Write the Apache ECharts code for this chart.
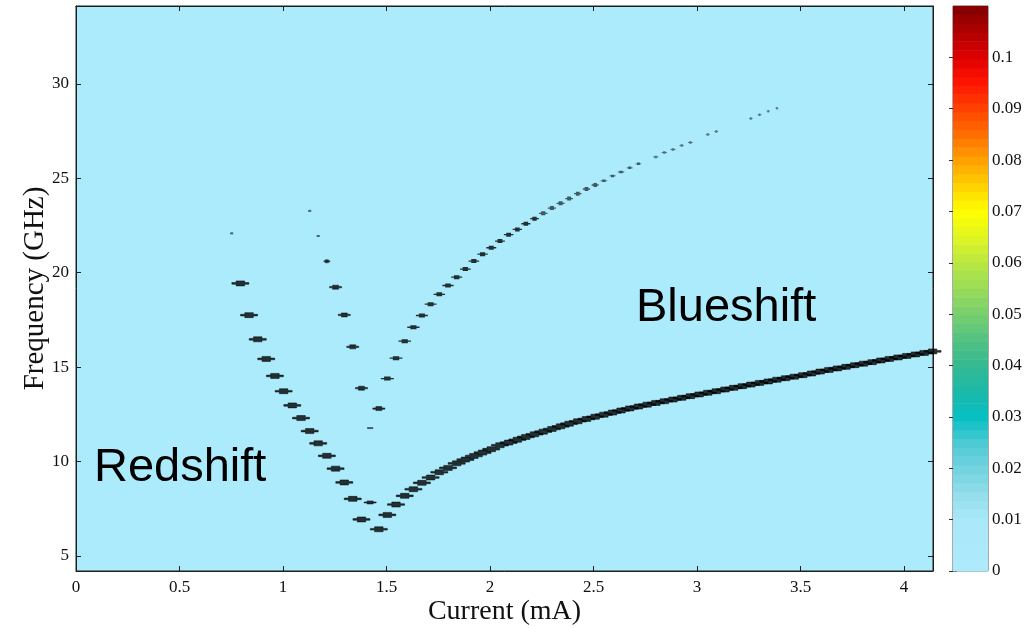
<!DOCTYPE html>
<html>
<head>
<meta charset="utf-8">
<script src="https://cdn.jsdelivr.net/npm/echarts@6/dist/echarts.min.js"></script>
<style>
  html, body { margin: 0; padding: 0; background: #ffffff; }
  #chart { width: 1027px; height: 628px; }
</style>
</head>
<body>
<div id="chart"></div>
<script>
// ---- axis ticks ----
const currentTicks = [0, 0.5, 1, 1.5, 2, 2.5, 3, 3.5, 4];
const freqTicks = [5, 10, 15, 20, 25, 30];
const colorTicks = [0, 0.01, 0.02, 0.03, 0.04, 0.05, 0.06, 0.07, 0.08, 0.09, 0.1];

// ---- redshift branch (frequency falls with current) ----
const redshiftCurrent = [0.794, 0.836, 0.878, 0.919, 0.961, 1.003, 1.045, 1.087, 1.129, 1.170,
  1.212, 1.254, 1.296, 1.337, 1.379, 1.463];
const redshiftFreq = [19.43, 17.75, 16.47, 15.43, 14.53, 13.72, 12.97, 12.30, 11.61, 10.96,
  10.30, 9.62, 8.89, 8.02, 6.93, 6.41];

// ---- second falling branch ----
const midCurrent = [1.212, 1.254, 1.296, 1.337, 1.379, 1.463];
const midFreq = [20.60, 19.23, 17.76, 16.07, 13.88, 12.80];

// ---- weak isolated peaks ----
const weakCurrent = [0.752, 1.129, 1.170, 1.421];
const weakFreq = [22.08, 23.27, 21.94, 11.77];
const dipCurrent = [1.421];
const dipFreq = [7.83];

// ---- upper blueshift branch (higher order, fading) ----
const upperCurrent = [1.504, 1.546, 1.588, 1.630, 1.671, 1.713, 1.755, 1.797, 1.839, 1.881,
  1.922, 1.964, 2.006, 2.048, 2.090, 2.132, 2.173, 2.215, 2.257, 2.299,
  2.341, 2.382, 2.424, 2.466, 2.508, 2.550, 2.592, 2.633, 2.675, 2.717,
  2.801, 2.842, 2.884, 2.926, 2.968, 3.052, 3.093, 3.260, 3.302, 3.344, 3.386];
const upperFreq = [14.39, 15.47, 16.37, 17.11, 17.73, 18.33, 18.85, 19.32, 19.76, 20.19,
  20.61, 20.98, 21.32, 21.67, 22.01, 22.29, 22.59, 22.86, 23.14, 23.42,
  23.67, 23.92, 24.18, 24.43, 24.64, 24.86, 25.12, 25.33, 25.55, 25.76,
  26.13, 26.36, 26.52, 26.73, 26.89, 27.31, 27.47, 28.16, 28.36, 28.55, 28.71];

// ---- main blueshift branch ----
const lowerCurrent = [1.504, 1.546, 1.588, 1.630, 1.671, 1.713, 1.755, 1.797, 1.839, 1.881,
  1.922, 1.964, 2.006, 2.048, 2.090, 2.132, 2.173, 2.215, 2.257, 2.299,
  2.341, 2.382, 2.424, 2.466, 2.508, 2.550, 2.592, 2.633, 2.675, 2.717,
  2.759, 2.801, 2.842, 2.884, 2.926, 2.968, 3.010, 3.052, 3.093, 3.135,
  3.177, 3.219, 3.260, 3.302, 3.344, 3.386, 3.428, 3.470, 3.511, 3.553,
  3.595, 3.637, 3.678, 3.720, 3.762, 3.804, 3.846, 3.888, 3.929, 3.971,
  4.013, 4.055, 4.097, 4.138];
const lowerFreq = [7.17, 7.72, 8.18, 8.53, 8.87, 9.15, 9.43, 9.66, 9.90, 10.10,
  10.29, 10.47, 10.65, 10.86, 11.00, 11.15, 11.30, 11.44, 11.58, 11.72,
  11.86, 12.00, 12.13, 12.25, 12.37, 12.48, 12.59, 12.70, 12.81, 12.91,
  13.01, 13.10, 13.19, 13.28, 13.37, 13.46, 13.55, 13.64, 13.72, 13.81,
  13.90, 13.99, 14.07, 14.16, 14.24, 14.33, 14.41, 14.49, 14.57, 14.66,
  14.76, 14.85, 14.93, 15.01, 15.10, 15.18, 15.26, 15.35, 15.43, 15.51,
  15.59, 15.67, 15.75, 15.83];

// ---- colour scale ----
const colorMax = 0.11;
const colormapStops = [
  [0.000, '#aceafc'], [0.010, '#aae8f9'], [0.013, '#9ee2f1'], [0.016, '#8ddbe8'],
  [0.020, '#74d3e0'], [0.025, '#4ccad4'], [0.030, '#06c0c2'], [0.035, '#1cb9a8'],
  [0.040, '#34ba92'], [0.045, '#52c282'], [0.050, '#78cf6e'], [0.055, '#98db58'],
  [0.060, '#b9e842'], [0.065, '#e0f420'], [0.070, '#ffff00'], [0.075, '#ffd200'],
  [0.080, '#ffa000'], [0.085, '#ff7000'], [0.090, '#ff4200'], [0.095, '#ff1600'],
  [0.100, '#e00000'], [0.105, '#b00000'], [0.110, '#800000']
];
const bandCount = 64;

function hexToRgb(h) {
  return [parseInt(h.slice(1, 3), 16), parseInt(h.slice(3, 5), 16), parseInt(h.slice(5, 7), 16)];
}
function colorAt(v) {
  for (let i = 0; i < colormapStops.length - 1; i++) {
    const [v0, c0] = colormapStops[i];
    const [v1, c1] = colormapStops[i + 1];
    if (v <= v1) {
      const t = (v - v0) / (v1 - v0);
      const a = hexToRgb(c0), b = hexToRgb(c1);
      const m = a.map((x, k) => Math.round(x + (b[k] - x) * t));
      return 'rgb(' + m.join(',') + ')';
    }
  }
  return colormapStops[colormapStops.length - 1][1];
}
const bands = [];
for (let i = 0; i < bandCount; i++) {
  const lo = colorMax * i / bandCount, hi = colorMax * (i + 1) / bandCount;
  bands.push([lo, hi, colorAt((lo + hi) / 2)]);
}

const zip = (xs, ys) => xs.map((x, i) => [x, ys[i]]);

// peak marker: thin stroke with a thicker centre bar
const peakPath = 'path://M0,3.5L8,3.5L8,0.5L24,0.5L24,3.5L32,3.5L32,6.5L24,6.5L24,9.5L8,9.5L8,6.5L0,6.5Z';
const peakStyle = { color: '#000', borderColor: '#000', borderWidth: 0.5 };

const serif = '"Liberation Serif", "Times New Roman", serif';
const axisColor = '#1e1e1e';
const xMin = 0, xMax = 4.14, yMin = 4.2, yMax = 34.12;

const chart = echarts.init(document.getElementById('chart'), null, { renderer: 'canvas' });

chart.setOption({
  animation: false,
  backgroundColor: '#ffffff',
  grid: [
    { left: 76, top: 6, right: 94, bottom: 57, outerBoundsMode: 'none', containLabel: false,
      show: true, backgroundColor: '#acebfc', borderColor: axisColor, borderWidth: 1 },
    { left: 953, width: 35, top: 6, bottom: 57, outerBoundsMode: 'none', containLabel: false,
      show: true, borderColor: '#555555', borderWidth: 1 }
  ],
  xAxis: [
    {
      gridIndex: 0, type: 'value', min: xMin, max: xMax, position: 'bottom',
      name: 'Current (mA)', nameLocation: 'middle', nameGap: 27, nameMoveOverlap: false,
      nameTextStyle: { fontFamily: serif, fontSize: 28, color: '#111' },
      axisLine: { show: true, onZero: false, lineStyle: { color: axisColor } },
      axisTick: { show: true, inside: true, length: 5, customValues: currentTicks, lineStyle: { color: axisColor } },
      axisLabel: { show: true, customValues: currentTicks, margin: 8, fontFamily: serif, fontSize: 17, color: '#111' },
      splitLine: { show: false }
    },
    {
      gridIndex: 0, type: 'value', min: xMin, max: xMax, position: 'top',
      axisLine: { show: true, onZero: false, lineStyle: { color: axisColor } },
      axisTick: { show: true, inside: true, length: 5, customValues: currentTicks, lineStyle: { color: axisColor } },
      axisLabel: { show: false }, splitLine: { show: false }
    },
    {
      gridIndex: 1, type: 'value', min: 0, max: 1, show: false
    }
  ],
  yAxis: [
    {
      gridIndex: 0, type: 'value', min: yMin, max: yMax, position: 'left',
      name: 'Frequency (GHz)', nameLocation: 'middle', nameGap: 26, nameMoveOverlap: false,
      nameTextStyle: { fontFamily: serif, fontSize: 29, color: '#111' },
      axisLine: { show: true, onZero: false, lineStyle: { color: axisColor } },
      axisTick: { show: true, inside: true, length: 5, customValues: freqTicks, lineStyle: { color: axisColor } },
      axisLabel: { show: true, customValues: freqTicks, margin: 7, fontFamily: serif, fontSize: 17, color: '#111' },
      splitLine: { show: false }
    },
    {
      gridIndex: 0, type: 'value', min: yMin, max: yMax, position: 'right',
      axisLine: { show: true, onZero: false, lineStyle: { color: axisColor } },
      axisTick: { show: true, inside: true, length: 5, customValues: freqTicks, lineStyle: { color: axisColor } },
      axisLabel: { show: false }, splitLine: { show: false }
    },
    {
      gridIndex: 1, type: 'value', min: 0, max: colorMax, position: 'right',
      axisLine: { show: false },
      axisTick: { show: true, inside: true, length: 4, customValues: colorTicks, lineStyle: { color: '#333' } },
      axisLabel: { show: true, customValues: colorTicks, margin: 4, fontFamily: serif, fontSize: 17, color: '#111',
        formatter: v => String(Number(v.toFixed(3))) },
      splitLine: { show: false }
    },
    {
      gridIndex: 1, type: 'value', min: 0, max: colorMax, position: 'left', offset: -4,
      axisLine: { show: false },
      axisTick: { show: true, inside: false, length: 4, customValues: colorTicks, lineStyle: { color: '#333' } },
      axisLabel: { show: false }, splitLine: { show: false }
    }
  ],
  series: [
    {
      name: 'colorbar', type: 'custom', xAxisIndex: 2, yAxisIndex: 2, silent: true, z: 1,
      data: bands,
      renderItem: function (params, api) {
        const p0 = api.coord([0, api.value(0)]);
        const p1 = api.coord([1, api.value(1)]);
        return {
          type: 'rect',
          shape: { x: p0[0], y: p1[1], width: p1[0] - p0[0], height: p0[1] - p1[1] + 0.5 },
          style: { fill: bands[params.dataIndex][2] }
        };
      }
    },
    {
      name: 'redshift', type: 'scatter', xAxisIndex: 0, yAxisIndex: 0, z: 3,
      symbol: peakPath, symbolSize: [17, 5],
      itemStyle: peakStyle,
      data: zip(redshiftCurrent, redshiftFreq)
    },
    {
      name: 'redshift-2', type: 'scatter', xAxisIndex: 0, yAxisIndex: 0, z: 3,
      symbol: peakPath,
      symbolSize: (v, p) => p.dataIndex === 0 ? [6, 3] : [12, 4],
      itemStyle: peakStyle,
      data: zip(midCurrent, midFreq)
    },
    {
      name: 'weak', type: 'scatter', xAxisIndex: 0, yAxisIndex: 0, z: 3,
      symbol: 'rect',
      symbolSize: (v, p) => p.dataIndex === 3 ? [6, 2] : [3, 2],
      itemStyle: { color: '#2b3f48' },
      data: zip(weakCurrent, weakFreq)
    },
    {
      name: 'dip', type: 'scatter', xAxisIndex: 0, yAxisIndex: 0, z: 3,
      symbol: peakPath, symbolSize: [12, 3],
      itemStyle: peakStyle,
      data: zip(dipCurrent, dipFreq)
    },
    {
      name: 'blueshift-upper', type: 'scatter', xAxisIndex: 0, yAxisIndex: 0, z: 3,
      symbol: peakPath,
      symbolSize: (v, p) => {
        const t = p.dataIndex / (upperCurrent.length - 1);
        return [Math.max(3, 13 - 10 * t), t > 0.6 ? 2.5 : 4];
      },
      itemStyle: {
        color: p => {
          const t = p.dataIndex / (upperCurrent.length - 1);
          return t < 0.45 ? '#000' : (t < 0.75 ? '#24343c' : '#3e5560');
        }
      },
      data: zip(upperCurrent, upperFreq)
    },
    {
      name: 'blueshift', type: 'scatter', xAxisIndex: 0, yAxisIndex: 0, z: 3,
      symbol: peakPath, symbolSize: [17, 5],
      itemStyle: peakStyle,
      data: zip(lowerCurrent, lowerFreq)
    }
  ],
  graphic: [
    { type: 'text', left: 94, top: 445, z: 10,
      style: { text: 'Redshift', font: '47px "Liberation Sans", Arial, sans-serif', fill: '#000' } },
    { type: 'text', left: 636, top: 285, z: 10,
      style: { text: 'Blueshift', font: '47px "Liberation Sans", Arial, sans-serif', fill: '#000' } }
  ]
});
</script>
</body>
</html>
